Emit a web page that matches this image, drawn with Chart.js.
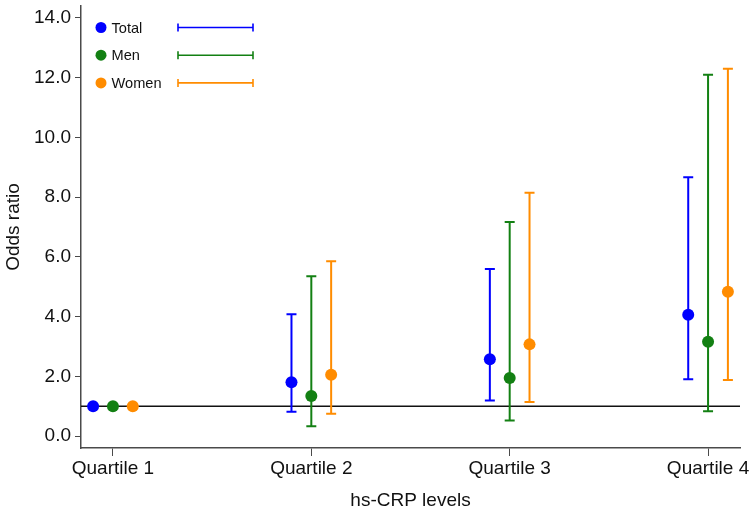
<!DOCTYPE html>
<html>
<head>
<meta charset="utf-8">
<script src="https://cdn.jsdelivr.net/npm/chart.js@4/dist/chart.umd.min.js"></script>
<style>
  html, body { margin: 0; padding: 0; background: #fff; }
  #wrap { width: 752px; height: 514px; }
</style>
</head>
<body>
<div id="wrap"><canvas id="or-chart"></canvas></div>
<script>
// ------------------------------------------------------
// Data
// ------------------------------------------------------
const categories = ['Quartile 1', 'Quartile 2', 'Quartile 3', 'Quartile 4'];
const seriesNames = ['Total', 'Men', 'Women'];

const totalOR   = [1.00, 1.80, 2.57, 4.06];
const totalLow  = [null, 0.81, 1.19, 1.90];
const totalHigh = [null, 4.08, 5.59, 8.67];

const menOR   = [1.00, 1.34, 1.94, 3.16];
const menLow  = [null, 0.33, 0.52, 0.83];
const menHigh = [null, 5.35, 7.17, 12.10];

const womenOR   = [1.00, 2.05, 3.07, 4.83];
const womenLow  = [null, 0.75, 1.14, 1.88];
const womenHigh = [null, 5.85, 8.15, 12.30];

const yTicks = [0, 2, 4, 6, 8, 10, 12, 14];
const refValue = 1;

// ------------------------------------------------------
// Styles
// ------------------------------------------------------
const colors = ['#0000ff', '#138013', '#ff8c00'];
const dodge = [-0.1, 0, 0.1];
const FONT = "'Liberation Sans', Arial, Helvetica, sans-serif";
const axisColor = '#4a4a4a';

const seriesData = [
    { or: totalOR, low: totalLow, high: totalHigh },
    { or: menOR, low: menLow, high: menHigh },
    { or: womenOR, low: womenLow, high: womenHigh }
];

const datasets = seriesData.map(function (s, k) {
    return {
        label: seriesNames[k],
        data: s.or.map(function (v, i) {
            return { x: i + dodge[k], y: v, low: s.low[i], high: s.high[i] };
        }),
        backgroundColor: colors[k],
        borderWidth: 0,
        pointRadius: 6,
        pointHoverRadius: 6,
        showLine: false
    };
});

// reference line + error bars, drawn under the points
const errorBars = {
    id: 'errorBars',
    beforeDatasetsDraw(chart) {
        const ctx = chart.ctx;
        const xs = chart.scales.x, ys = chart.scales.y;
        const area = chart.chartArea;

        ctx.save();
        ctx.strokeStyle = '#111';
        ctx.lineWidth = 1.6;
        ctx.beginPath();
        let ry = ys.getPixelForValue(refValue);
        ctx.moveTo(area.left, ry);
        ctx.lineTo(area.right, ry);
        ctx.stroke();

        chart.data.datasets.forEach(function (ds, k) {
            ctx.strokeStyle = colors[k];
            ctx.lineWidth = 2;
            ds.data.forEach(function (p) {
                if (p.low == null || p.high == null) return;
                let px = xs.getPixelForValue(p.x);
                let y1 = ys.getPixelForValue(p.low);
                let y2 = ys.getPixelForValue(p.high);
                ctx.beginPath();
                ctx.moveTo(px, y1); ctx.lineTo(px, y2);
                ctx.moveTo(px - 5, y1); ctx.lineTo(px + 5, y1);
                ctx.moveTo(px - 5, y2); ctx.lineTo(px + 5, y2);
                ctx.stroke();
            });
        });
        ctx.restore();
    }
};

// Stata-style legend: marker, name, CI sample
const ciLegend = {
    id: 'ciLegend',
    afterDraw(chart) {
        const ctx = chart.ctx;
        ctx.save();
        ctx.font = '14.6px ' + FONT;
        ctx.textBaseline = 'middle';
        seriesNames.forEach(function (name, k) {
            let y = 27.5 + k * 27.7;
            ctx.fillStyle = colors[k];
            ctx.beginPath();
            ctx.arc(101, y, 5.5, 0, Math.PI * 2);
            ctx.fill();
            ctx.fillStyle = '#111';
            ctx.fillText(name, 111.5, y + 1);
            ctx.strokeStyle = colors[k];
            ctx.lineWidth = 1.6;
            ctx.beginPath();
            ctx.moveTo(178, y); ctx.lineTo(253, y);
            ctx.moveTo(178, y - 4); ctx.lineTo(178, y + 4);
            ctx.moveTo(253, y - 4); ctx.lineTo(253, y + 4);
            ctx.stroke();
        });
        ctx.restore();
    }
};

let orChartBox = document.getElementById('or-chart');

new Chart(orChartBox.getContext('2d'), {
    type: 'scatter',
    data: { datasets: datasets },
    plugins: [errorBars, ciLegend],
    options: {
        responsive: true,
        maintainAspectRatio: false,
        animation: false,
        events: [],
        layout: { padding: { left: 0, right: 12, top: 3, bottom: 0 } },
        plugins: {
            legend: { display: false },
            tooltip: { enabled: false }
        },
        scales: {
            x: {
                type: 'linear',
                min: -0.161,
                max: 3.161,
                afterBuildTicks: function (scale) {
                    scale.ticks = categories.map(function (c, i) { return { value: i }; });
                },
                afterFit: function (scale) {
                    scale.height = 66;
                    scale.paddingLeft = 0;
                    scale.paddingRight = 0;
                },
                ticks: {
                    callback: function (v) { return categories[v]; },
                    color: '#111',
                    font: { family: FONT, size: 19 },
                    padding: 1,
                    maxRotation: 0,
                    autoSkip: false
                },
                grid: {
                    display: true,
                    drawOnChartArea: false,
                    drawTicks: true,
                    tickLength: 8,
                    color: axisColor
                },
                border: { display: true, color: axisColor, width: 1.5 },
                title: {
                    display: true,
                    text: 'hs-CRP levels',
                    color: '#111',
                    font: { family: FONT, size: 19 },
                    padding: { top: 0, bottom: 2 }
                }
            },
            y: {
                min: -0.4,
                max: 14.4,
                afterBuildTicks: function (scale) {
                    scale.ticks = yTicks.map(function (v) { return { value: v }; });
                },
                afterFit: function (scale) {
                    scale.width = 81;
                    scale.paddingTop = 0;
                    scale.paddingBottom = 0;
                },
                ticks: {
                    callback: function (v) { return v.toFixed(1); },
                    color: '#111',
                    font: { family: FONT, size: 19 },
                    padding: 4
                },
                grid: {
                    display: true,
                    drawOnChartArea: false,
                    drawTicks: true,
                    tickLength: 6,
                    color: axisColor
                },
                border: { display: true, color: axisColor, width: 1.5 },
                title: {
                    display: true,
                    text: 'Odds ratio',
                    color: '#111',
                    font: { family: FONT, size: 19 },
                    padding: { top: 2, bottom: 0 }
                }
            }
        }
    }
});
</script>
</body>
</html>
